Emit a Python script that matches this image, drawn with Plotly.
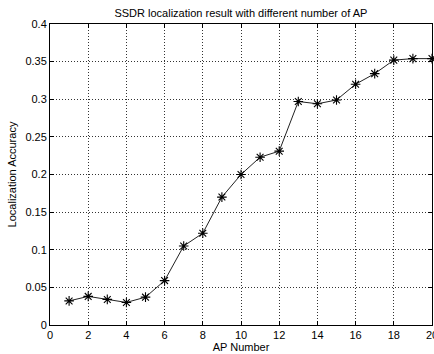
import plotly.graph_objects as go

ap_number = list(range(1, 21))
accuracy = [0.032, 0.038, 0.034, 0.030, 0.037, 0.059, 0.105, 0.122, 0.170, 0.200,
            0.223, 0.231, 0.297, 0.294, 0.299, 0.320, 0.334, 0.352, 0.354, 0.354]

x_ticks = list(range(0, 21, 2))
y_ticks = [0, 0.05, 0.1, 0.15, 0.2, 0.25, 0.3, 0.35, 0.4]
y_tick_text = ["0", "0.05", "0.1", "0.15", "0.2", "0.25", "0.3", "0.35", "0.4"]

title = "SSDR localization result with different number of AP"
x_title = "AP Number"
y_title = "Localization Accuracy"

font_family = "Liberation Sans, Arial, sans-serif"

fig = go.Figure()
fig.add_trace(go.Scatter(
    x=ap_number, y=accuracy, mode="lines+markers",
    line=dict(color="#222222", width=1),
    marker=dict(symbol="asterisk-open", size=8, color="black",
                line=dict(color="black", width=1.1)),
    cliponaxis=False,
))

axis_common = dict(
    showline=True, linecolor="black", linewidth=1, mirror="ticks",
    showgrid=True, gridcolor="#333333", gridwidth=1, griddash="1px,2px",
    zeroline=False, ticks="inside", ticklen=4, tickcolor="black",
    tickfont=dict(family=font_family, size=11, color="black"),
    automargin=False, ticklabeloverflow="allow",
)

fig.update_layout(
    width=434, height=354,
    margin=dict(l=50, r=2, t=24, b=29),
    paper_bgcolor="white", plot_bgcolor="white",
    showlegend=False,
    title=dict(text=title, x=0.555, xanchor="center", y=0.963, yanchor="middle",
               font=dict(family=font_family, size=11, color="black")),
    font=dict(family=font_family, size=11, color="black"),
)
fig.update_xaxes(range=[0, 20], tickvals=x_ticks, ticktext=[str(v) for v in x_ticks],
                 title=dict(text=x_title, standoff=0,
                            font=dict(family=font_family, size=11, color="black")),
                 **axis_common)
fig.update_yaxes(range=[0, 0.4], tickvals=y_ticks, ticktext=y_tick_text,
                 title=dict(text=y_title, standoff=6,
                            font=dict(family=font_family, size=11, color="black")),
                 **axis_common)

fig.write_html(
    "out.html",
    config={"displayModeBar": False},
    post_script="document.body.style.margin='0';document.body.style.padding='0';"
                "document.body.style.overflow='hidden';",
)
